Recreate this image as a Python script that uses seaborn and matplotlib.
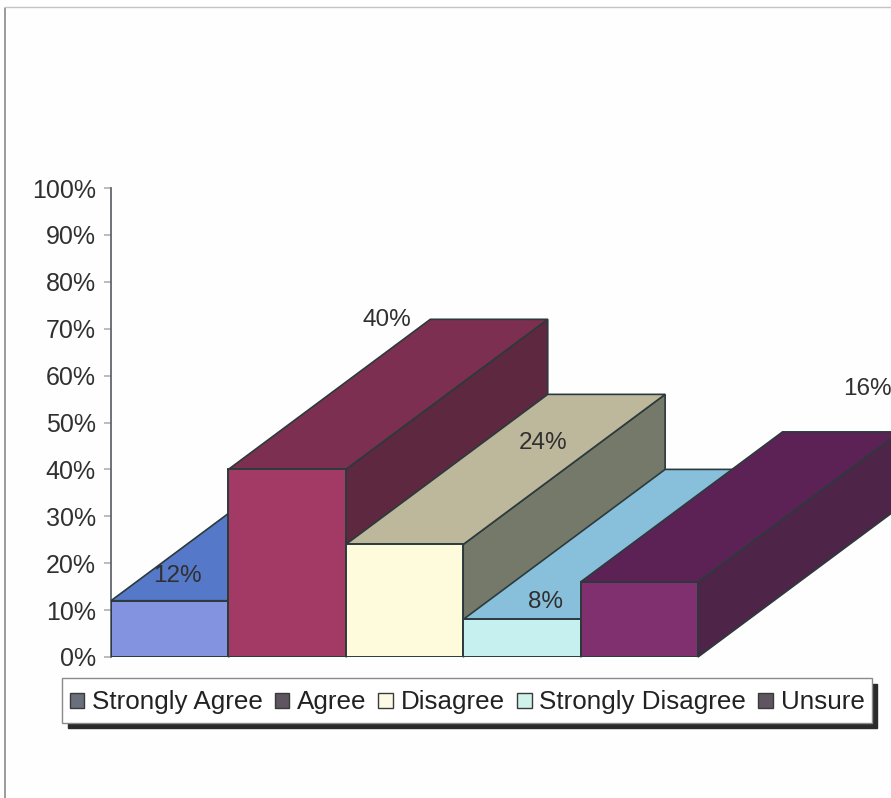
import matplotlib
matplotlib.use("Agg")
import matplotlib.pyplot as plt
import seaborn as sns
from matplotlib.legend_handler import HandlerPatch
from matplotlib.patches import Patch, Polygon, Rectangle

categories = ["Strongly Agree", "Agree", "Disagree", "Strongly Disagree", "Unsure"]
values = [12, 40, 24, 8, 16]
front_colors = ["#8493e0", "#a33a66", "#fdfbdc", "#c6f0f0", "#80306f"]
top_colors = ["#5578c8", "#7c2f50", "#bdb89c", "#88c0dc", "#5c2256"]
side_colors = ["#3f5a98", "#5e2840", "#75796a", "#6a98a8", "#4e2448"]
legend_colors = ["#6a6f7c", "#5f5560", "#fdfbe6", "#d0f2ea", "#5f5560"]
label_offsets = [(8, 25), (100, 149), (139, 101), (24, 17), (228, 193)]
yticks = list(range(0, 101, 10))

W, H = 891, 798
DEPTH_X, DEPTH_Y = 1.72, 32
EDGE = "#2c3a3c"
TEXT = "#303030"

sns.set_theme(style="white")
plt.rcParams["font.family"] = ["Liberation Sans", "DejaVu Sans"]

fig = plt.figure(figsize=(W / 100, H / 100), dpi=100, facecolor="#fefefe")
ax = fig.add_axes([111 / W, (H - 657) / H, 780 / W, 469 / H])
ax.patch.set_alpha(0)

sns.barplot(x=categories, y=values, hue=categories, palette=front_colors,
            width=1, legend=False, saturation=1, ax=ax,
            edgecolor=EDGE, linewidth=1.4)
ax.set_xlim(-0.5, -0.5 + 780 / 117.4)
ax.set_ylim(0, 100)
ax.set_yticks(yticks)
ax.set_yticklabels([f"{v}%" for v in yticks], fontsize=18, color=TEXT)
ax.set_xticks([])
ax.set_xlabel("")
ax.set_ylabel("")
ax.tick_params(axis="y", left=True, length=5, width=1.2, color="#b0b0b0", pad=6)
sns.despine(ax=ax, top=True, right=True, bottom=True)
ax.spines["left"].set_color("#555a60")
ax.spines["left"].set_linewidth(1.2)

bars = list(ax.patches)
for i, bar in enumerate(bars):
    x0, x1 = bar.get_x(), bar.get_x() + bar.get_width()
    h = bar.get_height()
    z = 3 + i * 3
    top = [(x0, h), (x1, h), (x1 + DEPTH_X, h + DEPTH_Y), (x0 + DEPTH_X, h + DEPTH_Y)]
    side = [(x1, 0), (x1 + DEPTH_X, DEPTH_Y), (x1 + DEPTH_X, h + DEPTH_Y), (x1, h)]
    ax.add_patch(Polygon(side, closed=True, fc=side_colors[i], ec=EDGE, lw=1.2, zorder=z, clip_on=False))
    ax.add_patch(Polygon(top, closed=True, fc=top_colors[i], ec=EDGE, lw=1.2, zorder=z + 1, clip_on=False))
    bar.set_zorder(z + 2)
    ox, oy = label_offsets[i]
    ax.annotate(f"{values[i]}%", (bar.get_x() + bar.get_width() / 2, h),
                xytext=(ox * 0.72, oy * 0.72), textcoords="offset points",
                ha="center", va="center", fontsize=17.5, color=TEXT,
                zorder=30, annotation_clip=False)

# outer page border
fig.add_artist(plt.Line2D([5 / W, 5 / W], [0, 1 - 8 / H], color="#8a8a8a", lw=1.2))
fig.add_artist(plt.Line2D([5 / W, 1], [1 - 7 / H, 1 - 7 / H], color="#c4c4c4", lw=1.0))


def small_swatch(legend, orig_handle, xdescent, ydescent, width, height, fontsize):
    return Rectangle((-xdescent, -ydescent + (height - width) / 2), width, width)


# legend with drop shadow
handles = [Patch(fc=c, ec="#3a3a3a", lw=1.0) for c in legend_colors]
leg = fig.legend(handles, categories, ncol=5, loc="center",
                 bbox_to_anchor=(467 / W, 1 - 700.5 / H),
                 fontsize=18.7, frameon=True, fancybox=False, framealpha=1,
                 facecolor="white", edgecolor="#8a8a8a",
                 handlelength=0.57, handleheight=1.4, handletextpad=0.3,
                 columnspacing=0.45, borderpad=0.28, borderaxespad=0,
                 handler_map={Patch: HandlerPatch(patch_func=small_swatch)},
                 labelcolor="#222222",
                 shadow={"ox": 4, "oy": -4, "color": "#2a2a2a", "alpha": 1})

fig.savefig("out.png", dpi=100, facecolor=fig.get_facecolor())
